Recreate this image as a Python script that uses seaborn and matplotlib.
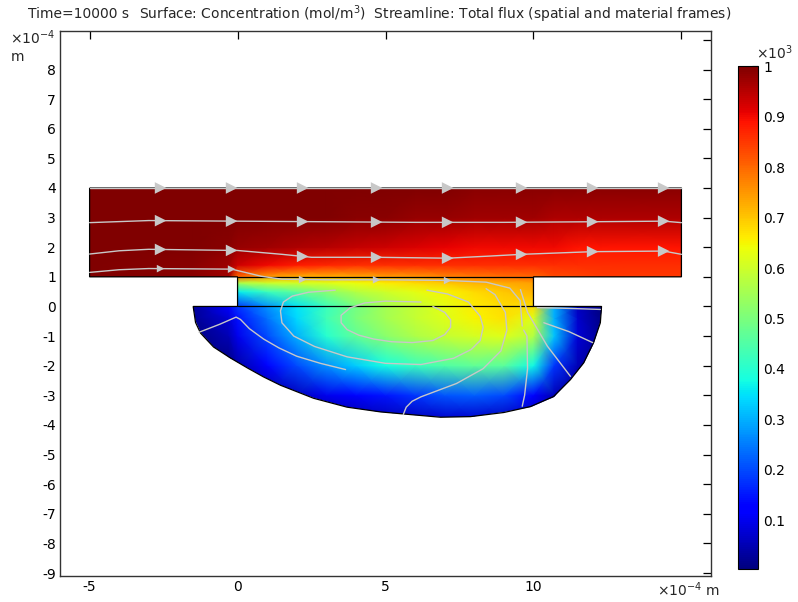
import numpy as np
import pandas as pd
import seaborn as sns
import matplotlib
matplotlib.use('Agg')
import matplotlib.pyplot as plt
from matplotlib.path import Path
from matplotlib.patches import PathPatch

# grid nodes of the concentration field (x, y in 1e-4 m), values in 1e3 mol/m^3
x_nodes = [-5, -1.5, -0.3, 0, 1, 2, 3, 4, 5, 6, 7, 8, 9, 10, 10.7, 11.5, 12.3, 15]
y_nodes = [-3.8, -3, -2, -1, -0.4, 0, 0.5, 0.8, 1, 1.4, 2, 3, 4]
conc = [
    [0.0, 0.0, 0.0, 0.0, 0.01, 0.02, 0.03, 0.04, 0.05, 0.06, 0.07, 0.07, 0.06, 0.05, 0.03, 0.02, 0.01, 0.0],
    [0.0, 0.0, 0.0, 0.0, 0.03, 0.06, 0.1, 0.13, 0.15, 0.18, 0.21, 0.22, 0.2, 0.13, 0.05, 0.02, 0.0, 0.0],
    [0.0, 0.0, 0.0, 0.04, 0.12, 0.2, 0.27, 0.33, 0.38, 0.42, 0.45, 0.47, 0.46, 0.37, 0.18, 0.05, 0.01, 0.0],
    [0.0, 0.0, 0.05, 0.1, 0.2, 0.3, 0.4, 0.47, 0.52, 0.56, 0.59, 0.61, 0.62, 0.57, 0.32, 0.08, 0.02, 0.0],
    [0.0, 0.02, 0.08, 0.14, 0.24, 0.34, 0.43, 0.5, 0.55, 0.59, 0.62, 0.65, 0.67, 0.62, 0.3, 0.07, 0.01, 0.0],
    [0.0, 0.03, 0.12, 0.18, 0.27, 0.35, 0.42, 0.49, 0.55, 0.59, 0.63, 0.66, 0.68, 0.68, 0.3, 0.06, 0.01, 0.0],
    [0.36, 0.36, 0.36, 0.36, 0.42, 0.47, 0.52, 0.57, 0.6, 0.63, 0.65, 0.68, 0.7, 0.72, 0.72, 0.72, 0.72, 0.72],
    [0.56, 0.56, 0.56, 0.56, 0.6, 0.61, 0.62, 0.64, 0.66, 0.68, 0.7, 0.72, 0.73, 0.74, 0.74, 0.74, 0.74, 0.74],
    [1.0, 0.99, 0.97, 0.8, 0.74, 0.72, 0.72, 0.73, 0.74, 0.75, 0.77, 0.78, 0.79, 0.8, 0.83, 0.84, 0.85, 0.85],
    [1.0, 0.99, 0.97, 0.93, 0.9, 0.88, 0.87, 0.86, 0.86, 0.86, 0.86, 0.86, 0.86, 0.86, 0.86, 0.86, 0.86, 0.86],
    [1.0, 1.0, 0.99, 0.98, 0.97, 0.96, 0.95, 0.94, 0.93, 0.92, 0.91, 0.9, 0.9, 0.9, 0.9, 0.89, 0.89, 0.89],
    [1.0, 1.0, 1.0, 1.0, 1.0, 1.0, 1.0, 0.99, 0.99, 0.98, 0.98, 0.97, 0.97, 0.97, 0.96, 0.96, 0.96, 0.96],
    [1.0, 1.0, 1.0, 1.0, 1.0, 1.0, 1.0, 1.0, 1.0, 1.0, 1.0, 0.99, 0.99, 0.99, 0.99, 0.99, 0.99, 0.99],
]

# outline of the geometry (union of the three domains)
outline_x = [-5, 15, 15, 10, 10, 12.3, 12.26, 12.03, 11.7, 11.25, 10.68, 9.9, 9.0, 7.87, 6.86,
             5.95, 4.83, 3.7, 2.57, 1.45, 0.88, 0.34, -0.24, -0.81, -1.25, -1.42, -1.5, 0, 0, -5, -5]
outline_y = [4, 4, 1, 1, 0, 0, -0.55, -1.22, -1.9, -2.47, -3.04, -3.38, -3.58, -3.72, -3.74,
             -3.66, -3.56, -3.4, -3.1, -2.66, -2.38, -2.08, -1.74, -1.37, -0.9, -0.54, 0, 0, 1, 1, 4]

# streamlines (polylines)
streamlines = [
    ([-5, 15], [4, 4]),
    ([-5, -3, 0, 3, 6, 9, 12, 14.4, 15], [2.83, 2.9, 2.88, 2.86, 2.84, 2.84, 2.86, 2.88, 2.83]),
    ([-5, -4, -3, 0, 1.5, 2.5, 4.7, 7.1, 8.5, 9.6, 12, 14.4, 15], [1.77, 1.88, 1.93, 1.89, 1.76, 1.66, 1.66, 1.63, 1.7, 1.76, 1.85, 1.87, 1.76]),
    ([-5, -4, -3, -0.2, 0.8, 1.5, 3, 5, 7, 8.4, 9.2, 9.55, 9.62], [1.15, 1.24, 1.28, 1.26, 1.02, 0.92, 0.9, 0.9, 0.88, 0.82, 0.62, 0.2, -0.66]),
    ([9.67, 9.78, 9.8, 9.7, 9.62], [-0.8, -1.0, -2.1, -3.0, -3.37]),
    ([6.2, 5.0, 4.3, 3.8, 3.5, 3.5, 3.7, 4.1, 4.6, 5.2, 5.9, 6.6, 7.0, 7.2, 7.2, 7.0, 6.6],
     [0.15, 0.18, 0.12, -0.05, -0.3, -0.55, -0.78, -0.97, -1.1, -1.19, -1.22, -1.15, -0.95, -0.7, -0.45, -0.2, 0.0]),
    ([3.3, 2.4, 1.85, 1.55, 1.45, 1.5, 1.9, 2.6, 3.7, 5.0, 6.2, 7.3, 7.9, 8.2, 8.3, 8.2, 7.8, 7.1, 6.4],
     [0.55, 0.48, 0.35, 0.15, -0.15, -0.55, -1.0, -1.35, -1.7, -1.92, -1.96, -1.75, -1.45, -1.15, -0.7, -0.33, 0.15, 0.42, 0.55]),
    ([5.6, 5.7, 5.9, 6.2, 7.4, 8.3, 8.9, 9.1, 9.05, 8.7, 8.4], [-3.65, -3.4, -3.2, -3.05, -2.6, -2.1, -1.5, -0.8, -0.2, 0.4, 0.6]),
    ([9.56, 9.8, 10.47, 11.25], [0.57, -0.2, -1.34, -2.36]),
    ([10.13, 11.0, 12.26], [-0.04, -0.06, -0.1]),
    ([10.35, 11.2, 12.0], [-0.55, -0.85, -1.22]),
    ([-1.3, -0.6, -0.05, 0.1, 0.4, 0.88, 1.4, 2.0, 2.8, 3.65], [-0.87, -0.6, -0.36, -0.44, -0.75, -1.1, -1.4, -1.68, -1.92, -2.13]),
]
arrow_x = [-2.6, -0.2, 2.2, 4.7, 7.1, 9.6, 12.0, 14.4]
arrow_x_small = [-2.6, -0.2, 2.2, 4.7, 7.1]

cbar_ticks = [0.1, 0.2, 0.3, 0.4, 0.5, 0.6, 0.7, 0.8, 0.9, 1.0]
cbar_labels = ['0.1', '0.2', '0.3', '0.4', '0.5', '0.6', '0.7', '0.8', '0.9', '1']

sns.set_theme(style='white')
plt.rcParams['font.family'] = ['DejaVu Sans']

fig = plt.figure(figsize=(7.98, 6.02), dpi=100)
ax = fig.add_axes([0.0752, 0.0432, 0.8158, 0.9053])
cax = fig.add_axes([0.925, 0.0548, 0.025, 0.835])

X, Y = np.meshgrid(x_nodes, y_nodes)
C = np.array(conc)
mesh = ax.pcolormesh(X, Y, C, shading='gouraud', cmap='jet', vmin=0.003, vmax=1.0)

dom = Path(np.column_stack([outline_x, outline_y]))
patch = PathPatch(dom, facecolor='none', edgecolor='black', lw=0.9, zorder=3)
ax.add_patch(patch)
mesh.set_clip_path(patch)

# interior boundaries
ax.plot([0, 10], [0, 0], color='black', lw=0.9, zorder=3)
ax.plot([0, 10], [1, 1], color='black', lw=0.9, zorder=3)

sl_color = '#c8c8c8'
for sx, sy in streamlines:
    sns.lineplot(x=sx, y=sy, sort=False, estimator=None, color=sl_color, lw=1.0, ax=ax, zorder=4)

# arrows on the upper streamlines
for i in range(3):
    sx, sy = streamlines[i]
    ax.scatter(arrow_x, np.interp(arrow_x, sx, sy), marker='>', s=70, color=sl_color,
               edgecolors='none', zorder=5)
sx, sy = streamlines[3]
ax.scatter(arrow_x_small, np.interp(arrow_x_small, sx, sy), marker='>', s=30, color=sl_color,
           edgecolors='none', zorder=5)

ax.set_xlim(-6, 16)
ax.set_ylim(-9.1, 9.3)
ax.set_xticks([-5, 0, 5, 10, 15])
ax.set_xticklabels(['-5', '0', '5', '10', ''])
ax.set_yticks(list(range(-9, 10)))
ax.set_yticklabels([str(v) for v in range(-9, 9)] + [''])
ax.tick_params(direction='in', length=6, width=0.9, top=True, right=True, labelsize=10,
               colors='black', pad=3)
for s in ax.spines.values():
    s.set_color('#333333')
    s.set_linewidth(1.0)

fig.text(0.035, 0.976, 'Time=10000 s', fontsize=10, va='center')
fig.text(0.174, 0.976, 'Surface: Concentration (mol/m$^3$)  Streamline: Total flux (spatial and material frames)',
         fontsize=10, va='center')
fig.text(0.012, 0.938, '×10$^{-4}$', fontsize=10, va='center')
fig.text(0.013, 0.906, 'm', fontsize=10, va='center')
fig.text(0.823, 0.02, '×10$^{-4}$ m', fontsize=10, va='center')

cb = fig.colorbar(mesh, cax=cax, ticks=cbar_ticks)
cb.ax.set_yticklabels(cbar_labels)
cb.ax.tick_params(direction='in', length=4, width=0.8, labelsize=10, colors='black')
cb.outline.set_linewidth(0.8)
cb.outline.set_edgecolor('black')
fig.text(0.947, 0.912, '×10$^3$', fontsize=10, va='center')

fig.savefig('out.png', dpi=100)
